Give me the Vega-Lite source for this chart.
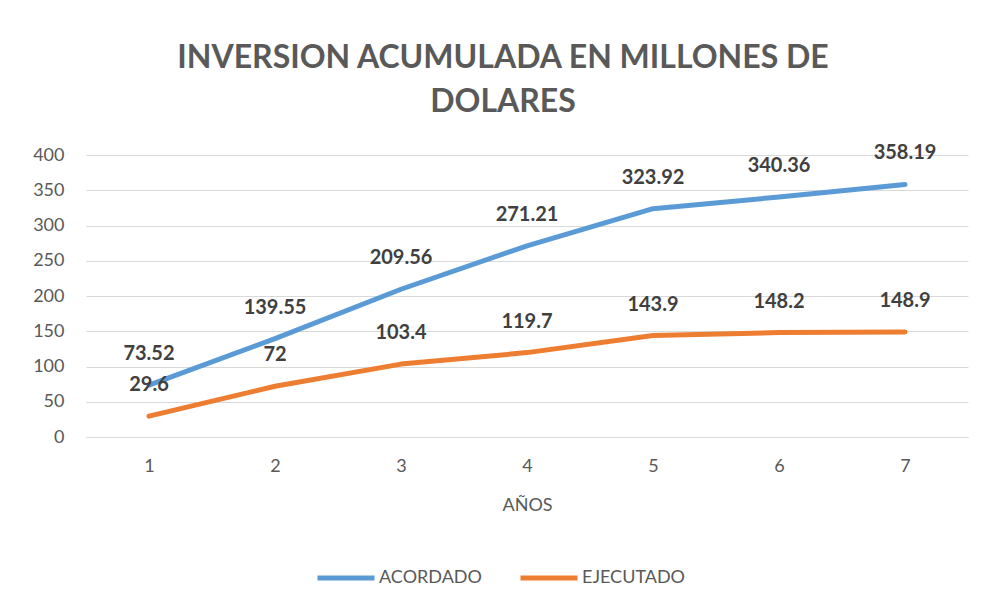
{
  "$schema": "https://vega.github.io/schema/vega-lite/v6.json",
  "width": 882,
  "height": 282,
  "autosize": {"type": "none"},
  "padding": {"left": 86, "top": 155, "right": 16, "bottom": 174},
  "background": "white",
  "config": {
    "font": "Lato",
    "view": {"stroke": null}
  },
  "title": {
    "text": ["INVERSION ACUMULADA EN MILLONES DE", "DOLARES"],
    "fontSize": 32,
    "fontWeight": "bold",
    "color": "#595959",
    "anchor": "middle",
    "dx": -24,
    "offset": 24,
    "lineHeight": 44
  },
  "data": {
    "values": [
      {"year": "1", "series": "ACORDADO", "value": 73.52},
      {"year": "2", "series": "ACORDADO", "value": 139.55},
      {"year": "3", "series": "ACORDADO", "value": 209.56},
      {"year": "4", "series": "ACORDADO", "value": 271.21},
      {"year": "5", "series": "ACORDADO", "value": 323.92},
      {"year": "6", "series": "ACORDADO", "value": 340.36},
      {"year": "7", "series": "ACORDADO", "value": 358.19},
      {"year": "1", "series": "EJECUTADO", "value": 29.6},
      {"year": "2", "series": "EJECUTADO", "value": 72},
      {"year": "3", "series": "EJECUTADO", "value": 103.4},
      {"year": "4", "series": "EJECUTADO", "value": 119.7},
      {"year": "5", "series": "EJECUTADO", "value": 143.9},
      {"year": "6", "series": "EJECUTADO", "value": 148.2},
      {"year": "7", "series": "EJECUTADO", "value": 148.9}
    ]
  },
  "encoding": {
    "x": {
      "field": "year",
      "type": "ordinal",
      "scale": {"type": "point", "padding": 0.5},
      "axis": {
        "title": "AÑOS",
        "titleFontSize": 18,
        "titleFontWeight": "normal",
        "titleColor": "#595959",
        "titlePadding": 21,
        "labelFontSize": 18,
        "labelColor": "#595959",
        "labelAngle": 0,
        "labelPadding": 20,
        "ticks": false,
        "domainColor": "#D9D9D9",
        "grid": false
      }
    },
    "y": {
      "field": "value",
      "type": "quantitative",
      "scale": {"domain": [0, 400]},
      "axis": {
        "title": null,
        "values": [0, 50, 100, 150, 200, 250, 300, 350, 400],
        "labelFontSize": 18,
        "labelColor": "#595959",
        "labelPadding": 22,
        "ticks": false,
        "domain": false,
        "gridColor": "#D9D9D9",
        "gridWidth": 1
      }
    }
  },
  "layer": [
    {
      "mark": {"type": "line", "strokeWidth": 5, "strokeCap": "round", "strokeJoin": "round"},
      "encoding": {
        "color": {
          "field": "series",
          "type": "nominal",
          "scale": {"domain": ["ACORDADO", "EJECUTADO"], "range": ["#5B9BD5", "#ED7D31"]},
          "legend": {
            "title": null,
            "orient": "none",
            "direction": "horizontal",
            "legendX": 229,
            "legendY": 392,
            "symbolType": "stroke",
            "symbolSize": 3249,
            "symbolStrokeWidth": 5,
            "labelFontSize": 18,
            "labelColor": "#595959",
            "labelOffset": 2,
            "columnPadding": 28
          }
        }
      }
    },
    {
      "mark": {"type": "text", "dy": -31, "fontSize": 20, "fontWeight": "bold", "color": "#404040"},
      "encoding": {
        "text": {"field": "value", "type": "nominal"}
      }
    }
  ]
}
